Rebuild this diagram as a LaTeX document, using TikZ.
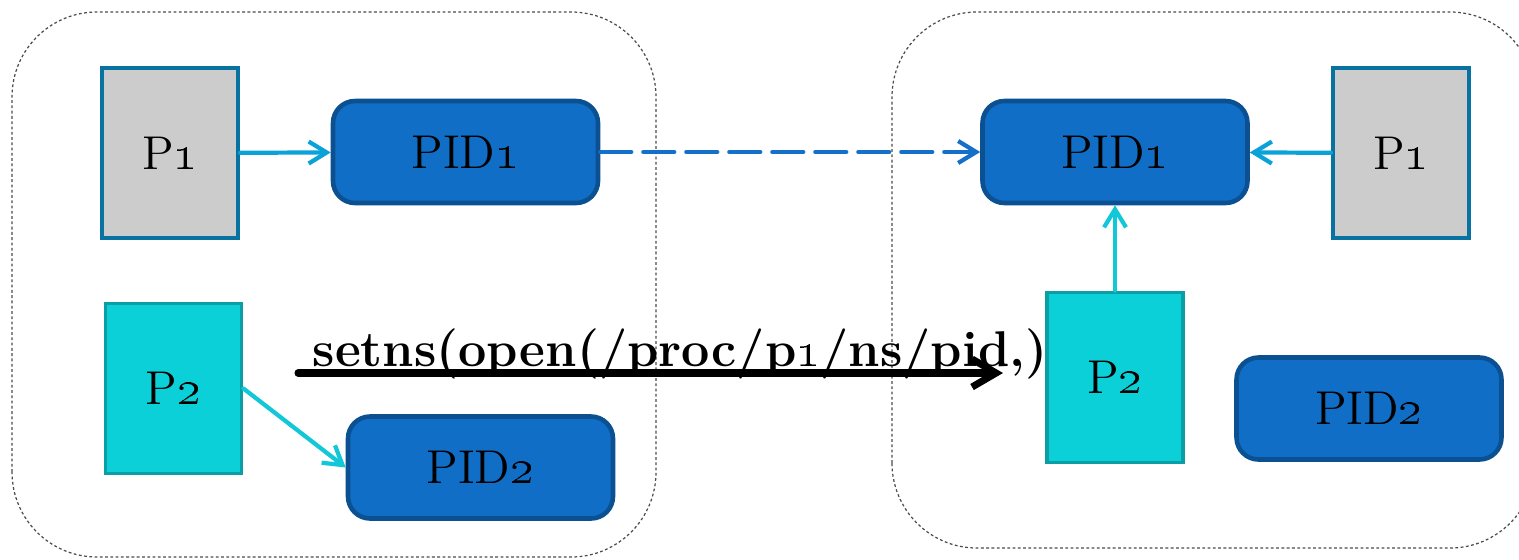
\documentclass[tikz,border=0pt]{standalone}
\usepackage{tikz}
\usetikzlibrary{arrows.meta}

\definecolor{boxgray}{HTML}{CCCCCC}
\definecolor{grayline}{HTML}{0872A0}
\definecolor{pidblue}{HTML}{106EC6}
\definecolor{pidline}{HTML}{0B5090}
\definecolor{pcyan}{HTML}{0CD0D8}
\definecolor{pcyanline}{HTML}{0A9EA6}
\definecolor{linkblue}{HTML}{0AA2D8}
\definecolor{linkcyan}{HTML}{12C8D8}
\definecolor{dashblue}{HTML}{1470C8}

\tikzset{
  nsbox/.style={draw=black!70, line width=0.35pt, dash pattern=on 0.8pt off 0.7pt, rounded corners=0.85cm},
  proc/.style={rectangle, line width=1.1pt, minimum width=1.36cm, minimum height=1.70cm, font=\fontsize{13.5}{16}\selectfont},
  pgray/.style={proc, draw=grayline, fill=boxgray},
  pcy/.style={proc, draw=pcyanline, fill=pcyan},
  pid/.style={rectangle, rounded corners=0.22cm, draw=pidline, fill=pidblue, line width=1.3pt, minimum width=2.65cm, minimum height=1.02cm, font=\fontsize{13.5}{16}\selectfont},
  link/.style={line width=1.2pt, line cap=round, -{Straight Barb[length=1.8mm,width=2.2mm]}}
}

\begin{document}
\begin{tikzpicture}
\useasboundingbox (0,0) rectangle (15.19,5.59);

% namespaces
\draw[nsbox] (0.12,0.02) rectangle (6.56,5.47);
\draw[nsbox] (8.92,0.11) rectangle (15.35,5.47);

% left side
\node[pgray] (a) at (1.70,4.06) {P\oldstylenums{1}};
\node[pid]   (b) at (4.655,4.07) {PID\oldstylenums{1}};
\node[pcy]   (c) at (1.735,1.705) {P\oldstylenums{2}};
\node[pid]   (d) at (4.805,0.915) {PID\oldstylenums{2}};

% right side
\node[pid]   (e) at (11.15,4.07) {PID\oldstylenums{1}};
\node[pgray] (f) at (14.01,4.06) {P\oldstylenums{1}};
\node[pcy]   (g) at (11.15,1.815) {P\oldstylenums{2}};
\node[pid]   (h) at (13.69,1.505) {PID\oldstylenums{2}};

\path (a) edge [link, draw=linkblue] (b);
\path (c.east) edge [link, draw=linkcyan] (d.west);
\path (b) edge [link, draw=dashblue, dash pattern=on 0.31cm off 0.12cm] (e);
\path (f) edge [link, draw=linkblue] (e);
\path (g) edge [link, draw=linkcyan] (e);

% setns call
\coordinate (s) at (2.98,1.86);
\coordinate (t) at (10.03,1.86);
\draw [line width=2pt, line cap=round, -{Straight Barb[length=2.4mm,width=2.8mm]}] (s) -- (t);
\node [anchor=base, inner sep=0pt, font=\bfseries\fontsize{14.3}{17}\selectfont] (lbl) at (6.80,1.93) {setns(open(/proc/p\oldstylenums{1}/ns/pid,)};
\end{tikzpicture}
\end{document}
